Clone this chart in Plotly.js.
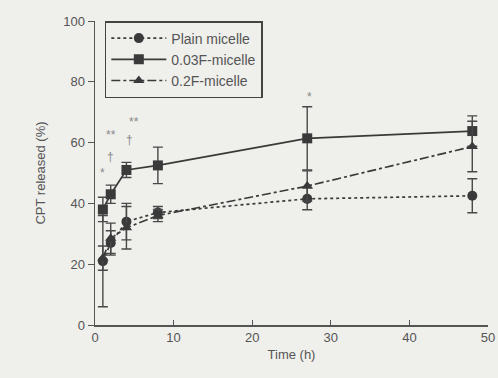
<!DOCTYPE html>
<html>
<head>
<meta charset="utf-8">
<script src="https://cdn.plot.ly/plotly-3.0.1.min.js"></script>
<style>html,body{margin:0;padding:0;background:#efefec;}#chart{width:498px;height:378px;}</style>
</head>
<body>
<div id="chart"></div>
<script>
const timeH = [1, 2, 4, 8, 27, 48];
const plainY = [21, 27, 34, 37, 41.5, 42.5];
const plainErr = [15, 4, 6, 2, 3.6, 5.6];
const f003Y = [38, 43, 51, 52.5, 61.4, 63.8];
const f003Err = [4, 3, 2.5, 6, 10.4, 5];
const f02Y = [22, 28.5, 32, 36, 45.7, 58.7];
const f02Err = [4, 5, 7, 2, 5, 8.3];
const seriesNames = ["Plain micelle", "0.03F-micelle", "0.2F-micelle"];
const markText = ["*", "**", "†", "**", "†", "*", "**", "*"];
const markX = [0.9, 2.0, 2.0, 5.0, 4.4, 27.3, 50.3, 50.3];
const markY = [50, 62.5, 55.4, 66.9, 60.9, 75.1, 66.5, 59.2];

const dark = '#3a3a3a';
function trace(name, y, err, symbol, dash) {
  return {
    x: timeH, y: y, name: name, type: 'scatter', mode: 'lines+markers',
    line: {color: dark, width: 1.7, dash: dash},
    marker: {symbol: symbol, size: 10, color: dark},
    error_y: {type: 'data', array: err, visible: true, color: '#484848', thickness: 1.4, width: 5}
  };
}
const data = [
  trace(seriesNames[0], plainY, plainErr, 'circle', 'dot'),
  trace(seriesNames[1], f003Y, f003Err, 'square', 'solid'),
  trace(seriesNames[2], f02Y, f02Err, 'triangle-up', 'dashdot')
];
const annotations = markText.map((t, i) => ({
  x: markX[i], y: markY[i], xref: 'x', yref: 'y', text: t, showarrow: false,
  font: {family: 'Liberation Sans, Arial, sans-serif', size: 12, color: '#888888'}
}));
const layout = {
  width: 498, height: 378,
  margin: {l: 95, r: 10, t: 21, b: 53},
  paper_bgcolor: '#efefec', plot_bgcolor: '#efefec',
  font: {family: 'Liberation Sans, Arial, sans-serif', size: 13, color: '#555'},
  showlegend: true,
  legend: {x: 0.025, y: 1.0, xanchor: 'left', yanchor: 'top', bgcolor: '#efefec',
    bordercolor: '#444', borderwidth: 1.5, font: {size: 14, color: '#555'},
    tracegroupgap: 0, itemwidth: 55},
  xaxis: {range: [0, 50], tickvals: [0, 10, 20, 30, 40, 50], ticks: 'inside', ticklen: 5,
    tickcolor: '#555', showline: true, linecolor: '#555', linewidth: 1.5, showgrid: false,
    zeroline: false, title: {text: 'Time (h)', font: {size: 13, color: '#555'}, standoff: 6}},
  yaxis: {range: [0, 100], tickvals: [0, 20, 40, 60, 80, 100], ticks: 'outside', ticklen: 6,
    tickcolor: '#555', showline: true, linecolor: '#555', linewidth: 1.5, showgrid: false,
    zeroline: false, title: {text: 'CPT released (%)', font: {size: 13, color: '#555'}, standoff: 14}},
  annotations: annotations
};
Plotly.newPlot('chart', data, layout, {displayModeBar: false, staticPlot: true});
</script>
</body>
</html>
